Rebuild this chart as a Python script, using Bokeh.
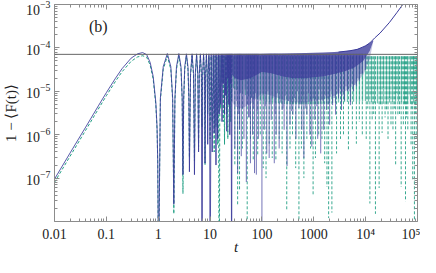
from bokeh.plotting import figure
from bokeh.models import (LogAxis, FixedTicker, LogTickFormatter, CustomJSTickFormatter,
                          Span, Label)
from bokeh.embed import file_html
from bokeh.resources import INLINE

# ---------------- data ----------------
# early smooth rise + individual oscillations (t <= 26.5), shared time grid
arch_t = [0.01, 0.02, 0.04, 0.07, 0.1, 0.15, 0.2, 0.3, 0.4, 0.5, 0.6, 0.7, 0.8, 0.9, 0.95, 0.98, 0.995, 1.0,
          1.1, 1.25, 1.5, 1.75, 1.9, 2.0,
          2.1, 2.25, 2.5, 2.75, 2.9, 3.0,
          3.1, 3.25, 3.5, 3.75, 3.9, 4.0,
          4.2, 4.5, 4.8, 5.0,
          5.2, 5.5, 5.8, 6.0,
          6.2, 6.5, 6.8, 7.0,
          7.2, 7.5, 7.8, 8.0,
          8.2, 8.5, 8.8, 9.0,
          9.2, 9.5, 9.8, 10.0,
          10.5, 11, 11.5, 12, 12.5, 13, 13.5, 14, 14.5, 15, 15.5, 16, 16.5, 17, 17.5, 18, 18.5,
          19, 19.5, 20, 20.5, 21, 21.5, 22, 22.5, 23, 23.5, 24, 24.5, 25, 25.5, 26, 26.5]

blue_y = [9.5e-8, 3.8e-7, 1.5e-6, 4.6e-6, 9.3e-6, 2.0e-5, 3.3e-5, 5.8e-5, 7.3e-5, 7.8e-5, 7.0e-5, 4.6e-5,
          2.2e-5, 5.5e-6, 1.5e-6, 2.4e-7, 1.5e-8, 1e-10,
          7.0e-6, 3.7e-5, 7.4e-5, 3.7e-5, 7.0e-6, 2.5e-8,
          7.0e-6, 3.7e-5, 7.4e-5, 3.7e-5, 7.0e-6, 1.2e-7,
          7.0e-6, 3.7e-5, 7.3e-5, 3.7e-5, 7.0e-6, 1.4e-7,
          2.6e-5, 7.3e-5, 2.6e-5, 1.2e-7,
          2.6e-5, 7.3e-5, 2.6e-5, 4.0e-7,
          2.6e-5, 7.3e-5, 2.6e-5, 1e-10,
          2.6e-5, 7.3e-5, 2.6e-5, 2.2e-7,
          2.6e-5, 7.3e-5, 2.6e-5, 6.0e-7,
          2.6e-5, 7.3e-5, 2.6e-5, 1e-10,
          7.3e-5, 4.0e-7, 7.3e-5, 1.1e-6, 7.3e-5, 2.0e-7, 7.3e-5, 8.0e-7, 7.3e-5, 3.0e-6, 7.3e-5,
          5.0e-6, 7.3e-5, 2.0e-6, 7.3e-5, 1.5e-5, 7.3e-5, 3.0e-6, 7.3e-5, 8.0e-6, 7.3e-5, 1.2e-6,
          7.3e-5, 2.0e-5, 7.3e-5, 5.0e-6, 7.3e-5, 1.0e-6, 7.3e-5, 1.5e-5, 7.3e-5, 1e-10, 7.3e-5]

teal_y = [8.0e-8, 3.2e-7, 1.27e-6, 3.9e-6, 7.9e-6, 1.7e-5, 2.8e-5, 4.9e-5, 6.2e-5, 6.6e-5, 6.1e-5, 4.0e-5,
          1.9e-5, 4.8e-6, 1.3e-6, 2.1e-7, 1.2e-8, 1e-10,
          6.2e-6, 3.2e-5, 6.5e-5, 3.2e-5, 6.2e-6, 1.5e-8,
          6.2e-6, 3.2e-5, 6.5e-5, 3.2e-5, 6.2e-6, 4.4e-8,
          6.2e-6, 3.2e-5, 6.5e-5, 3.2e-5, 6.2e-6, 3.0e-7,
          2.3e-5, 6.5e-5, 2.3e-5, 2.5e-7,
          2.3e-5, 6.5e-5, 2.3e-5, 5.3e-7,
          2.3e-5, 6.5e-5, 2.3e-5, 1.5e-6,
          2.3e-5, 6.5e-5, 2.3e-5, 2.0e-7,
          2.3e-5, 6.5e-5, 2.3e-5, 3.0e-6,
          2.3e-5, 6.5e-5, 2.3e-5, 8.0e-7,
          6.5e-5, 2.0e-6, 6.5e-5, 4.0e-7, 6.5e-5, 1.5e-6, 6.5e-5, 6.0e-7, 6.5e-5, 1e-10, 6.5e-5,
          4.0e-6, 6.5e-5, 1.5e-5, 6.5e-5, 2.0e-6, 6.5e-5, 6.0e-7, 6.5e-5, 1.0e-5, 6.5e-5, 3.0e-6,
          6.5e-5, 8.0e-7, 6.5e-5, 1.2e-5, 6.5e-5, 4.0e-6, 6.5e-5, 2.0e-6, 6.5e-5, 6.0e-6, 6.5e-5]

# dense oscillation region: envelope bands
blue_band_t = [26, 30, 40, 60, 80, 100, 150, 250, 400, 700, 1000, 1500, 2500, 4000, 6000, 9000, 12000, 14000]
blue_band_lo = [2.5e-5, 2.0e-5, 1.8e-5, 2.0e-5, 2.4e-5, 2.8e-5, 2.6e-5, 2.2e-5, 2.0e-5, 2.0e-5, 2.1e-5,
                2.2e-5, 2.5e-5, 2.9e-5, 3.5e-5, 5.0e-5, 8.5e-5, 1.4e-4]
blue_band_hi = [7.3e-5, 7.3e-5, 7.3e-5, 7.3e-5, 7.3e-5, 7.3e-5, 7.4e-5, 7.4e-5, 7.5e-5, 7.6e-5, 7.7e-5,
                7.8e-5, 8.0e-5, 8.4e-5, 9.0e-5, 1.05e-4, 1.3e-4, 1.5e-4]
blue_fuzz_lo = [6.0e-6, 4.5e-6, 4.0e-6, 5.0e-6, 7.0e-6, 9.0e-6, 8.0e-6, 6.5e-6, 5.5e-6, 5.5e-6, 6.0e-6,
                6.5e-6, 8.0e-6, 1.0e-5, 1.4e-5, 2.4e-5, 5.5e-5, 1.4e-4]

teal_band_t = [27, 50, 100, 300, 1000, 3000, 10000, 20000, 40000, 70000, 100000]
teal_band_lo = [1.2e-5, 8e-6, 6e-6, 5e-6, 5e-6, 5.5e-6, 6e-6, 5e-6, 6e-6, 5e-6, 6e-6]
teal_band_hi = [6.4e-5, 6.4e-5, 6.4e-5, 6.4e-5, 6.4e-5, 6.4e-5, 6.4e-5, 6.4e-5, 6.4e-5, 6.4e-5, 6.4e-5]

# deep minima (spikes) in the dense region
blue_peak = 7.3e-5
blue_spike_t = [30, 34, 37, 40, 45, 50, 55, 60, 66, 72, 78, 85, 100, 111, 124, 138, 151, 173, 188, 215,
                245, 268, 305, 348, 397, 453, 517, 590, 644, 735, 839, 916, 1045, 1192, 1361, 1553, 1772,
                2021, 2306, 2631, 3002, 3425, 3908, 4459, 5087, 5804, 6622, 7555, 8620, 9835]
blue_spike_y = [4.8e-7, 1.3e-7, 1.3e-6, 3.2e-7, 8.0e-7, 8.1e-8, 2.5e-6, 2.2e-7, 1.0e-6, 1.3e-7,
                1.2e-7, 8.0e-7, 1e-10, 1.3e-6, 3.7e-7, 2.9e-7, 2.2e-6, 2.2e-7, 1.0e-6, 4.8e-7,
                3.7e-6, 1.3e-6, 1.9e-7, 1.7e-6, 2.9e-6, 8.0e-7, 4.1e-6, 1.3e-6, 2.9e-7, 2.9e-6,
                1.0e-6, 5.3e-7, 2.2e-6, 8.0e-7, 3.7e-7, 1.3e-6, 3.7e-6, 1.7e-6, 4.8e-6, 2.9e-6,
                6.8e-6, 3.7e-6, 6.1e-6, 1.0e-5, 4.8e-6, 1.0e-5, 1.3e-5, 1.7e-5, 2.6e-5, 3.1e-5]
# shallower minima between them
blue_shallow_t = [32, 35.5, 38.5, 42.5, 47.5, 52.5, 57.5, 63, 69, 75, 81.5, 92, 105, 117, 131, 144, 162,
                  180, 200, 230, 256, 286, 326, 372, 425, 485, 553, 617, 690, 787, 877, 980, 1118, 1275,
                  1457, 1662, 1895, 2160, 2465, 2815, 3213, 3666, 4183, 4770, 5440, 6200, 7090, 8080]
blue_shallow_y = [6e-6, 3e-6, 9e-6, 4e-6, 1.1e-5, 5e-6, 2.5e-6, 7e-6, 4e-6, 9e-6, 3.5e-6, 6e-6, 8e-6,
                  4.5e-6, 1.0e-5, 5e-6, 7e-6, 3e-6, 9e-6, 5.5e-6, 4e-6, 8e-6, 6e-6, 3.5e-6, 7e-6, 1.0e-5,
                  5e-6, 8e-6, 4e-6, 9e-6, 6e-6, 7e-6, 4.5e-6, 1.1e-5, 6e-6, 8e-6, 5e-6, 1.0e-5, 7e-6,
                  9e-6, 1.2e-5, 8e-6, 1.3e-5, 1.0e-5, 1.5e-5, 1.4e-5, 2.0e-5, 2.5e-5]

teal_peak = 6.4e-5
teal_spike_t = [30, 34, 37, 42, 52, 60, 68, 83, 93, 106, 120, 138, 158, 186, 215, 245, 301, 348, 389, 448,
                517, 577, 644, 735, 865, 970, 1077, 1245, 1439, 1622, 1795, 1933, 2234, 2748, 3275,
                3741, 4656, 5548, 6622, 7555, 8620, 10260, 12070, 13360, 15450, 18200, 20770, 23690,
                27020, 30810, 33640, 37870, 41880, 48420, 53330, 58730, 65010, 75180, 80970, 87280, 94420]
teal_spike_y = [2.0e-7, 2.3e-8, 5.4e-8, 4.8e-7, 1e-10, 8.0e-7, 2.6e-7, 3.4e-7, 1.0e-6, 1.7e-7,
                1.0e-7, 6.2e-7, 2.9e-7, 2.5e-7, 8.0e-7, 3.7e-7, 1.75e-8, 4.8e-7, 1.0e-6, 1.7e-7,
                1e-10, 4.8e-7, 1.0e-7, 8.0e-7, 4.8e-7, 4.2e-8, 2.9e-7, 1.0e-6, 8.0e-7, 2.2e-7,
                6.3e-8, 1.2e-8, 1.6e-8, 3.7e-7, 8.0e-7, 1.0e-6, 4.3e-7, 1.3e-6, 6.2e-7, 2.0e-6,
                1.0e-6, 8.0e-7, 2.6e-8, 2.2e-6, 1.5e-8, 5.9e-8, 1.1e-6, 2.5e-6, 8.0e-7, 1.7e-6,
                1.3e-6, 1.9e-7, 2.9e-6, 6.3e-8, 1.7e-6, 2.9e-8, 1.3e-6, 5.6e-7, 8.9e-8, 1e-10, 8.0e-7]
teal_shallow_t = [11000, 12700, 14300, 16800, 19500, 22000, 25300, 28900, 32200, 35700, 39800, 45000,
                  50800, 56000, 61500, 69000, 78000, 84000, 91000, 97000]
teal_shallow_y = [4e-6, 8e-6, 3e-6, 1e-5, 5e-6, 1.2e-5, 3.5e-6, 7e-6, 1.5e-5, 4e-6, 9e-6, 3e-6, 1.1e-5,
                  5e-6, 2.5e-6, 8e-6, 4e-6, 1.3e-5, 3e-6, 6e-6]

# late-time rise of the solid curve
blue_tail_t = [3000, 5000, 7000, 10000, 12000, 15000, 19000, 29000, 40000, 52000, 100000]
blue_tail_y = [8.0e-5, 8.6e-5, 9.3e-5, 1.12e-4, 1.3e-4, 1.7e-4, 2.2e-4, 3.9e-4, 6.5e-4, 1.0e-3, 3.2e-3]

saturation = 7.1e-5

x_major = [0.01, 0.1, 1, 10, 100, 1000, 1e4, 1e5]
x_labels = ["0.01", "0.1", "1", "10", "100", "1000", "10⁴", "10⁵"]
y_major = [1e-7, 1e-6, 1e-5, 1e-4, 1e-3]
x_minor = [k * 10.0 ** e for e in range(-2, 5) for k in range(2, 10)]
y_minor = [1e-8] + [k * 10.0 ** e for e in range(-8, -3) for k in range(2, 10)]

x_title = "t"
y_title = "1 − ⟨F(t)⟩"
panel_tag = "(b)"

# ---------------- styling ----------------
BLUE = "#3a3a9a"
TEAL = "#23a085"
FRAME = "#8c8c8c"
SERIF = "Liberation Serif"

p = figure(width=420, height=257, x_axis_type="log", y_axis_type="log",
           x_range=(0.01, 1e5), y_range=(1e-8, 1e-3),
           output_backend="svg", toolbar_location=None,
           min_border_left=50, min_border_right=3, min_border_top=4, min_border_bottom=29)
p.grid.visible = False
p.outline_line_color = None

# teal (dashed) series
p.varea(x=teal_band_t, y1=teal_band_lo, y2=teal_band_hi, fill_color=TEAL, fill_alpha=0.1,
        hatch_pattern="|", hatch_color=TEAL, hatch_alpha=0.6, hatch_scale=3, hatch_weight=1)
p.line(arch_t, teal_y, line_color=TEAL, line_width=1, line_dash="3 2")
p.segment(x0=teal_spike_t, y0=[teal_peak] * len(teal_spike_t), x1=teal_spike_t, y1=teal_spike_y,
          line_color=TEAL, line_width=1, line_dash="3 2", line_alpha=0.9)
p.segment(x0=teal_shallow_t, y0=[teal_peak] * len(teal_shallow_t), x1=teal_shallow_t, y1=teal_shallow_y,
          line_color=TEAL, line_width=1, line_dash="3 2", line_alpha=0.9)

# blue (solid) series
p.varea(x=blue_band_t, y1=blue_fuzz_lo, y2=blue_band_lo, fill_color=BLUE, fill_alpha=0.28)
p.varea(x=blue_band_t, y1=blue_band_lo, y2=blue_band_hi, fill_color=BLUE, fill_alpha=0.78)
p.line(arch_t, blue_y, line_color=BLUE, line_width=1, line_alpha=0.85)
p.segment(x0=blue_shallow_t, y0=[blue_peak] * len(blue_shallow_t), x1=blue_shallow_t, y1=blue_shallow_y,
          line_color=BLUE, line_width=1, line_alpha=0.55)
p.segment(x0=blue_spike_t, y0=[blue_peak] * len(blue_spike_t), x1=blue_spike_t, y1=blue_spike_y,
          line_color=BLUE, line_width=1, line_alpha=0.7)
p.line(blue_tail_t, blue_tail_y, line_color=BLUE, line_width=1)

p.add_layout(Span(location=saturation, dimension="width", line_color="#666666", line_width=1))


def style_axis(ax, show_labels=True):
    ax.axis_line_color = FRAME
    ax.major_tick_line_color = FRAME
    ax.minor_tick_line_color = FRAME
    ax.major_tick_in = 5
    ax.major_tick_out = 0
    ax.minor_tick_in = 3
    ax.minor_tick_out = 0
    ax.major_label_text_font = SERIF
    ax.major_label_text_font_size = "14px" if show_labels else "0px"
    ax.major_label_text_color = "#222222"
    ax.axis_label_text_font = SERIF
    ax.axis_label_text_color = "#222222"


xa = p.xaxis[0]
xa.ticker = FixedTicker(ticks=x_major, minor_ticks=x_minor)
xa.formatter = LogTickFormatter(min_exponent=4)
xa.major_label_overrides = dict(zip(x_major, x_labels))
xa.major_label_standoff = 5
xa.axis_label = x_title
xa.axis_label_text_font_size = "15px"
xa.axis_label_text_font_style = "italic"
xa.axis_label_standoff = -6
style_axis(xa)

ya = p.yaxis[0]
ya.ticker = FixedTicker(ticks=y_major, minor_ticks=y_minor)
ya.formatter = LogTickFormatter()
ya.major_label_standoff = 4
ya.axis_label = y_title
ya.axis_label_text_font_size = "15px"
ya.axis_label_text_font_style = "normal"
ya.axis_label_standoff = 4
style_axis(ya)

top = LogAxis(ticker=FixedTicker(ticks=x_major, minor_ticks=x_minor),
              formatter=CustomJSTickFormatter(code="return ''"), major_label_standoff=0)
style_axis(top, False)
p.add_layout(top, "above")
right = LogAxis(ticker=FixedTicker(ticks=y_major, minor_ticks=y_minor),
                formatter=CustomJSTickFormatter(code="return ''"), major_label_standoff=0)
style_axis(right, False)
p.add_layout(right, "right")

p.add_layout(Label(x=0.07, y=3.1e-4, text=panel_tag, text_font=SERIF, text_font_size="16px",
                   text_align="center", text_baseline="middle", text_color="#222222"))

open("out.html", "w").write(file_html(p, INLINE))
